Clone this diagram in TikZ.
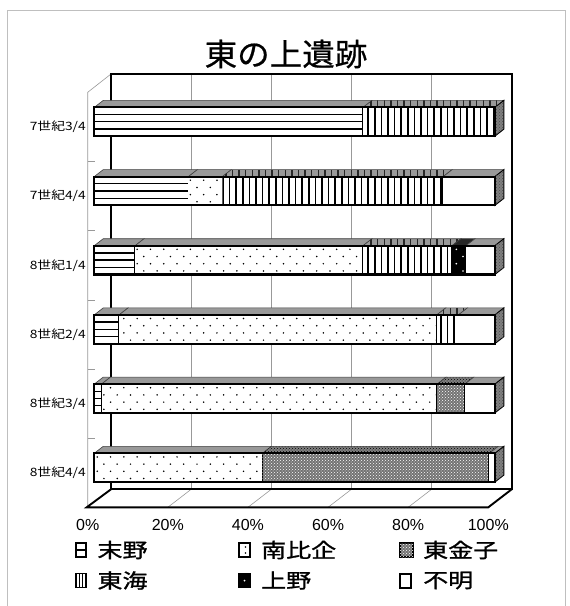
\documentclass[tikz,border=0pt]{standalone}
\usepackage{fontspec}
\setmainfont{Liberation Sans}
\newfontfamily\jptitle{Noto Sans CJK JP}[FakeStretch=1.05, FakeBold=0.6]
\newfontfamily\jpleg{Noto Sans CJK JP}[FakeStretch=1.25, FakeBold=1.2]
\newfontfamily\jpcat{Noto Sans CJK JP}[FakeStretch=1.2]
\usetikzlibrary{patterns}

\newcommand\DX{9}
\newcommand\DY{7}
\newcommand\BarL{94.25}
\newcommand\BarR{494.85}

\tikzset{
  wallthick/.style={line width=1.9pt, black},
  gridthin/.style={line width=0.6pt, black!40},
  framegrey/.style={line width=1pt, black!25},
  topface/.style={fill=black!40, draw=black!75, line width=0.6pt},
  sideface/.style={fill=black!50, draw=black, line width=0.9pt},
  segsep/.style={line width=1.7pt, black},
  axislbl/.style={font=\fontsize{16}{16}\selectfont, inner sep=0pt},
  catlbl/.style={font=\jpcat\fontsize{11.5}{12}\selectfont, inner sep=0pt, anchor=east},
  leglbl/.style={font=\jpleg\fontsize{20}{20}\selectfont, inner sep=0pt, anchor=west},
  legicon/.style={draw=black, line width=1.6pt},
}

% #1 x1, #2 x2, #3 ytop, #4 ybottom
\newcommand\topf[4]{%
  \draw[topface] (#1,#3) -- (#2,#3) -- ({#2+\DX},{#3-\DY}) -- ({#1+\DX},{#3-\DY}) -- cycle;}
\newcommand\segSuemo[4]{%
  \fill[white] (#1,#3) rectangle (#2,#4);
  \foreach \f in {0.25,0.5,0.75}{\draw[line width=1.3pt] (#1,{#3+\f*(#4-#3)}) -- (#2,{#3+\f*(#4-#3)});}
  \topf{#1}{#2}{#3}{#4}
  \draw[segsep] (#2,#3) -- (#2,#4);}
\newcommand\segMinami[4]{%
  \fill[white] (#1,#3) rectangle (#2,#4);
  \begin{scope}
    \clip (#1,#3) rectangle (#2,#4);
    \foreach \j in {0,1,2,3}{\foreach \i in {0,...,30}{%
      \fill ({\BarL+3+13.3*\i+6.65*mod(\j,2)},{#3+3.6+7.2*\j}) circle[radius=0.85pt];}}
  \end{scope}
  \topf{#1}{#2}{#3}{#4}
  \draw[segsep] (#2,#3) -- (#2,#4);}
\newcommand\segKaneko[4]{%
  \fill[black!55] (#1,#3) rectangle (#2,#4);
  \fill[pattern=crosshatch dots, pattern color=white] (#1,#3) rectangle (#2,#4);
  \draw[topface, fill=black!50] (#1,#3) -- (#2,#3) -- ({#2+\DX},{#3-\DY}) -- ({#1+\DX},{#3-\DY}) -- cycle;
  \fill[pattern=crosshatch dots, pattern color=black] (#1,#3) -- (#2,#3) -- ({#2+\DX},{#3-\DY}) -- ({#1+\DX},{#3-\DY}) -- cycle;
  \draw[segsep] (#2,#3) -- (#2,#4);}
\newcommand\segTokai[4]{%
  \fill[white] (#1,#3) rectangle (#2,#4);
  \begin{scope}
    \clip (#1,#3) rectangle (#2,#4);
    \foreach \i in {0,...,61}{\draw[line width=1.6pt] ({\BarL+3.3+6.6*\i},#3) -- ({\BarL+3.3+6.6*\i},#4);}
  \end{scope}
  \topf{#1}{#2}{#3}{#4}
  \begin{scope}
    \clip (#1,#3) -- (#2,#3) -- ({#2+\DX},{#3-\DY}) -- ({#1+\DX},{#3-\DY}) -- cycle;
    \foreach \i in {0,...,62}{\draw[line width=1.4pt, black!85] ({\BarL+6.3+6.6*\i},#3) -- ({\BarL+6.3+6.6*\i},{#3-\DY});}
  \end{scope}
  \draw[segsep] (#2,#3) -- (#2,#4);}
\newcommand\segUeno[4]{%
  \fill[black] (#1,#3) rectangle (#2,#4);
  \begin{scope}
    \clip (#1,#3) rectangle (#2,#4);
    \foreach \j in {0,1,2,3}{\foreach \i in {0,...,30}{%
      \fill[white] ({\BarL+3+13.3*\i+6.65*mod(\j,2)},{#3+3.6+7.2*\j}) circle[radius=0.9pt];}}
  \end{scope}
  \draw[topface, fill=black!85] (#1,#3) -- (#2,#3) -- ({#2+\DX},{#3-\DY}) -- ({#1+\DX},{#3-\DY}) -- cycle;
  \draw[segsep] (#2,#3) -- (#2,#4);}
\newcommand\segFumei[4]{%
  \fill[white] (#1,#3) rectangle (#2,#4);
  \topf{#1}{#2}{#3}{#4}
  \draw[segsep] (#2,#3) -- (#2,#4);}
\newcommand\barend[2]{%
  \draw[sideface] (\BarR,#1) -- ({\BarR+\DX},{#1-\DY}) -- ({\BarR+\DX},{#2-\DY}) -- (\BarR,#2) -- cycle;
  \fill[pattern=crosshatch dots, pattern color=black!70] (\BarR,#1) -- ({\BarR+\DX},{#1-\DY}) -- ({\BarR+\DX},{#2-\DY}) -- (\BarR,#2) -- cycle;
  \draw[line width=2.1pt] (\BarL,#1) rectangle (\BarR,#2);}

\begin{document}
\begin{tikzpicture}[x=1pt,y=-1pt]
\useasboundingbox (0,0) rectangle (570,606);
\fill[white] (0,0) rectangle (570,606);

% outer frame
\draw[framegrey] (7.3,606) -- (7.3,10) -- (565.7,10) -- (565.7,606);

% title
\node[font=\jptitle\fontsize{31}{31}\selectfont, inner sep=0pt] (title) at (286,54) {東の上遺跡};

% back wall grid
\foreach \k in {1,2,3,4}{
  \draw[gridthin] ({111+80.14*\k},74) -- ({111+80.14*\k},489.3);
  \draw[gridthin] ({87.7+80.12*\k},507.3) -- ({111+80.14*\k},489.3);
}
% left wall
\draw[gridthin] (87.7,507.3) -- (87.7,92.3) -- (111,74);
\foreach \k in {1,...,5}{
  \draw[gridthin] (87.7,{92.3+69.17*\k}) -- (95,{92.3+69.17*\k});
}
% back wall frame and floor
\draw[wallthick] (111,489.3) -- (111,74) -- (511.7,74) -- (511.7,489.3) -- cycle;
\draw[wallthick] (111,489.3) -- (86.7,507.3) -- (488.3,507.3) -- (511.7,489.3);

% bar 1 : 7c 3/4
\segSuemo{94.25}{363.05}{107.4}{136.2}
\segTokai{363.05}{494.85}{107.4}{136.2}
\barend{107.4}{136.2}
% bar 2 : 7c 4/4
\segSuemo{94.25}{188.4}{176.6}{205.4}
\segMinami{188.4}{222.4}{176.6}{205.4}
\segTokai{222.4}{443.2}{176.6}{205.4}
\segFumei{443.2}{494.85}{176.6}{205.4}
\barend{176.6}{205.4}
% bar 3 : 8c 1/4
\segSuemo{94.25}{135.1}{245.7}{274.5}
\segMinami{135.1}{363.0}{245.7}{274.5}
\segTokai{363.0}{452.0}{245.7}{274.5}
\segUeno{452.0}{466.0}{245.7}{274.5}
\segFumei{466.0}{494.85}{245.7}{274.5}
\barend{245.7}{274.5}
% bar 4 : 8c 2/4
\segSuemo{94.25}{119.1}{314.9}{343.7}
\segMinami{119.1}{436.8}{314.9}{343.7}
\segTokai{436.8}{458.4}{314.9}{343.7}
\segFumei{458.4}{494.85}{314.9}{343.7}
\barend{314.9}{343.7}
% bar 5 : 8c 3/4
\segSuemo{94.25}{101.5}{384.1}{412.9}
\segMinami{101.5}{437.2}{384.1}{412.9}
\segKaneko{437.2}{464.8}{384.1}{412.9}
\segFumei{464.8}{494.85}{384.1}{412.9}
\barend{384.1}{412.9}
% bar 6 : 8c 4/4
\segMinami{94.25}{262.5}{453.3}{482.1}
\segKaneko{262.5}{489.3}{453.3}{482.1}
\segFumei{489.3}{494.85}{453.3}{482.1}
\barend{453.3}{482.1}

% category labels
\node[catlbl] (c1) at (86,126.9) {7世紀3/4};
\node[catlbl] (c2) at (86,196.1) {7世紀4/4};
\node[catlbl] (c3) at (86,265.2) {8世紀1/4};
\node[catlbl] (c4) at (86,334.4) {8世紀2/4};
\node[catlbl] (c5) at (86,403.6) {8世紀3/4};
\node[catlbl] (c6) at (86,472.8) {8世紀4/4};

% axis labels
\node[axislbl] (a0) at (87.7,525) {0\%};
\node[axislbl] (a1) at (167.8,525) {20\%};
\node[axislbl] (a2) at (247.9,525) {40\%};
\node[axislbl] (a3) at (328.1,525) {60\%};
\node[axislbl] (a4) at (408.2,525) {80\%};
\node[axislbl] (a5) at (488.3,525) {100\%};

% legend icons
\draw[legicon, fill=white] (76,543) rectangle (86,557);
\draw[line width=1.3pt] (76,550) -- (86,550);
\draw[legicon, fill=white] (76,573.5) rectangle (86,587.5);
\draw[line width=1.3pt] (79.3,573.5) -- (79.3,587.5) (82.7,573.5) -- (82.7,587.5);
\draw[legicon, fill=white] (239,543) rectangle (250,557);
\fill (245.5,547) circle[radius=0.8pt] (245.5,553) circle[radius=0.8pt];
\draw[legicon, fill=black] (239,573.5) rectangle (250,587.5);
\fill[white] (244.5,580.5) circle[radius=1pt];
\draw[legicon, fill=black!55] (400,543) rectangle (413,557);
\fill[pattern=crosshatch dots, pattern color=white] (400,543) rectangle (413,557);
\draw[legicon, fill=white] (400,574) rectangle (411,588);

% legend labels
\node[leglbl] (l1) at (97.3,550) {末野};
\node[leglbl] (l2) at (261,550) {南比企};
\node[leglbl] (l3) at (423,550) {東金子};
\node[leglbl] (l4) at (97.3,580.5) {東海};
\node[leglbl] (l5) at (261,580.5) {上野};
\node[leglbl] (l6) at (423,580.5) {不明};
\end{tikzpicture}
\end{document}
